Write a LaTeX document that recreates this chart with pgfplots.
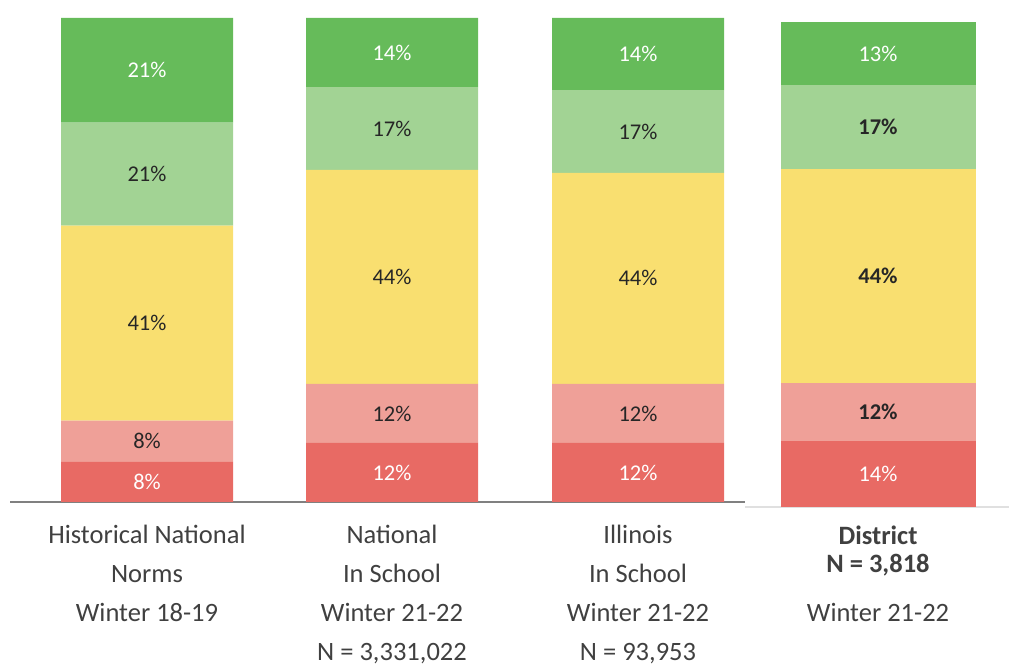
\documentclass[border=0pt]{standalone}
\usepackage{pgfplots}
\pgfplotsset{compat=1.18}
\usepackage{fontspec}
\setmainfont{Carlito}
\definecolor{cRed}{HTML}{E86A64}
\definecolor{cPink}{HTML}{EFA098}
\definecolor{cYel}{HTML}{F9DF70}
\definecolor{cLGr}{HTML}{A2D394}
\definecolor{cGr}{HTML}{66BB5A}
\definecolor{cTxt}{HTML}{262626}
\definecolor{cLab}{HTML}{404040}
\pgfplotsset{
  mystack/.style={
    ybar stacked, x=1pt, ymin=0, ymax=100, clip=false,
    axis y line=none, axis x line=bottom,
    x axis line style={-},
    major tick length=0pt,
    xticklabel style={align=center, text=cLab, font=\fontsize{26.5}{39}\selectfont, anchor=north, yshift=-20pt},
  },
  labs/.style={
    x=1pt, ymin=0, ymax=100, clip=false, hide axis,
    point meta=explicit symbolic,
    every node near coord/.append style={anchor=center, font=\fontsize{22.5}{24}\selectfont},
  },
  light/.style={draw=none, mark=none, nodes near coords, every node near coord/.append style={text=white}},
  dark/.style={draw=none, mark=none, nodes near coords, every node near coord/.append style={text=cTxt}},
}
\begin{document}
\begin{tikzpicture}
\useasboundingbox (0,0) rectangle (1009pt,668pt);
% ---- bars 1-3 ----
\begin{axis}[mystack, at={(10pt,166pt)}, anchor=south west,
  y=4.84pt, xmin=10, xmax=745, bar width=172pt,
  x axis line style={draw=black!50, line width=1.6pt},
  xtick={147,392,638},
  xticklabels={{Historical National\\Norms\\Winter 18-19},{National\\In School\\Winter 21-22\\N = 3,331,022},{Illinois\\In School\\Winter 21-22\\N = 93,953}}]
\addplot[fill=cRed, draw=none] coordinates {(147,8.3) (392,12.2) (638,12.2)};
\addplot[fill=cPink, draw=none] coordinates {(147,8.5) (392,12.2) (638,12.2)};
\addplot[fill=cYel, draw=none] coordinates {(147,40.3) (392,44.2) (638,43.6)};
\addplot[fill=cLGr, draw=none] coordinates {(147,21.3) (392,17.1) (638,17.1)};
\addplot[fill=cGr, draw=none] coordinates {(147,21.6) (392,14.3) (638,14.9)};
\end{axis}
\begin{axis}[labs, at={(10pt,166pt)}, anchor=south west, y=4.84pt, xmin=10, xmax=745]
\addplot[light] coordinates {(147,4.15)[8\%] (392,6.1)[12\%] (638,6.1)[12\%]};
\addplot[dark] coordinates {(147,12.55)[8\%] (392,18.3)[12\%] (638,18.3)[12\%]};
\addplot[dark] coordinates {(147,36.95)[41\%] (392,46.5)[44\%] (638,46.2)[44\%]};
\addplot[dark] coordinates {(147,67.75)[21\%] (392,77.15)[17\%] (638,76.55)[17\%]};
\addplot[light] coordinates {(147,89.2)[21\%] (392,92.85)[14\%] (638,92.55)[14\%]};
\end{axis}
% ---- district bar ----
\begin{axis}[mystack, at={(745pt,161pt)}, anchor=south west,
  y=4.85pt, xmin=745, xmax=1009, bar width=195pt,
  x axis line style={draw=black!12, line width=1.2pt},
  xtick={878},
  xticklabel style={yshift=5pt},
  xticklabels={{\textbf{District}\\[-11pt]\textbf{N = 3,818}\\[10pt]Winter 21-22}}]
\addplot[fill=cRed, draw=none] coordinates {(878,13.6)};
\addplot[fill=cPink, draw=none] coordinates {(878,12.0)};
\addplot[fill=cYel, draw=none] coordinates {(878,44.1)};
\addplot[fill=cLGr, draw=none] coordinates {(878,17.3)};
\addplot[fill=cGr, draw=none] coordinates {(878,13.0)};
\end{axis}
\begin{axis}[labs, at={(745pt,161pt)}, anchor=south west, y=4.85pt, xmin=745, xmax=1009]
\addplot[light] coordinates {(878,6.8)[14\%]};
\addplot[dark, every node near coord/.append style={font=\bfseries\fontsize{22.5}{24}\selectfont}] coordinates {(878,19.6)[12\%]};
\addplot[dark, every node near coord/.append style={font=\bfseries\fontsize{22.5}{24}\selectfont}] coordinates {(878,47.65)[44\%]};
\addplot[dark, every node near coord/.append style={font=\bfseries\fontsize{22.5}{24}\selectfont}] coordinates {(878,78.35)[17\%]};
\addplot[light] coordinates {(878,93.5)[13\%]};
\end{axis}
\end{tikzpicture}
\end{document}
